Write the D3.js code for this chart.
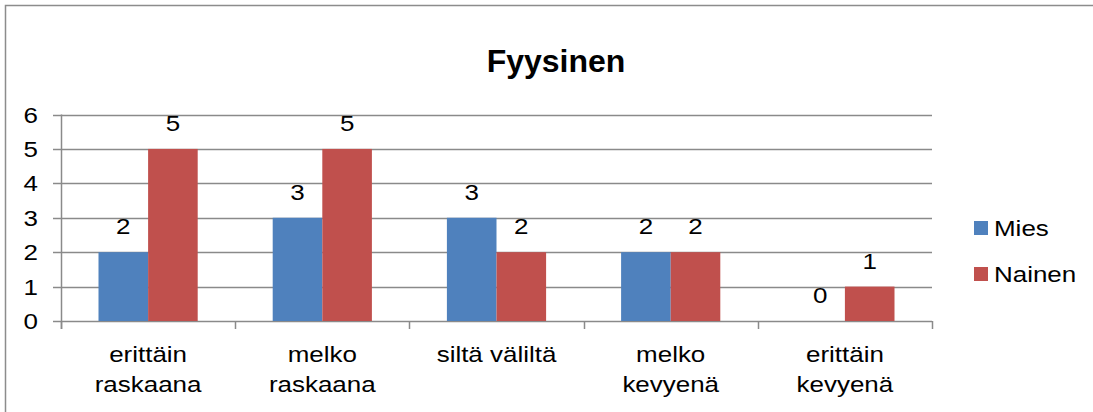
<!DOCTYPE html>
<html>
<head>
<meta charset="utf-8">
<script src="https://cdn.jsdelivr.net/npm/d3@7"></script>
<style>
  body { margin: 0; background: #fff; }
  text { font-family: "Liberation Sans", Arial, sans-serif; fill: #000; }
</style>
</head>
<body>
<div id="chart"></div>
<script>
// Data
const categories = [["erittäin", "raskaana"], ["melko", "raskaana"], ["siltä väliltä"], ["melko", "kevyenä"], ["erittäin", "kevyenä"]];
const seriesNames = ["Mies", "Nainen"];
const mies = [2, 3, 3, 2, 0];
const nainen = [5, 5, 2, 2, 1];
const yTicks = [0, 1, 2, 3, 4, 5, 6];

const colors = ["#4f81bd", "#c0504d"];
const width = 1093, height = 412;
const plot = { left: 61, right: 932, top: 114.5, bottom: 321 };
const stretch = 1.18; // text in the picture is a bit wide

const svg = d3.select("#chart").append("svg")
    .attr("width", width)
    .attr("height", height);

// outer frame (right and bottom fall outside the image)
svg.append("rect")
    .attr("x", 5.5).attr("y", 5.5)
    .attr("width", 1200).attr("height", 500)
    .attr("fill", "none")
    .attr("stroke", "#8c8c8c")
    .attr("stroke-width", 1.5);

// helper for horizontally stretched text
function label(g, x, y, txt, anchor, size) {
    return g.append("text")
        .attr("transform", `translate(${x},${y}) scale(${stretch},1)`)
        .attr("text-anchor", anchor || "middle")
        .style("font-size", (size || 22) + "px")
        .text(txt);
}

// Title
svg.append("text")
    .attr("x", 556).attr("y", 72)
    .attr("text-anchor", "middle")
    .style("font-size", "32px")
    .style("font-weight", "bold")
    .text("Fyysinen");

// Scales
const x = d3.scaleBand()
    .domain(d3.range(categories.length))
    .range([plot.left, plot.right])
    .padding(0);

const inner = d3.scaleBand()
    .domain(seriesNames)
    .range([37.5, x.bandwidth() - 37.5])
    .padding(0);

const y = d3.scaleLinear()
    .domain([0, 6])
    .range([plot.bottom, plot.top]);

// gridlines + left ticks
svg.append("g").selectAll("line")
    .data(yTicks)
    .enter().append("line")
    .attr("x1", plot.left - 8)
    .attr("x2", plot.right)
    .attr("y1", d => Math.round(y(d)) + 0.5)
    .attr("y2", d => Math.round(y(d)) + 0.5)
    .attr("stroke", "#8a8a8a")
    .attr("stroke-width", 1.5);

// y axis line
svg.append("line")
    .attr("x1", plot.left + 0.5).attr("x2", plot.left + 0.5)
    .attr("y1", plot.top).attr("y2", plot.bottom + 8)
    .attr("stroke", "#8a8a8a")
    .attr("stroke-width", 1.5);

// x ticks at category boundaries
const bounds = d3.range(categories.length + 1).map(i => i === categories.length ? plot.right : x(i));
svg.append("g").selectAll("line")
    .data(bounds)
    .enter().append("line")
    .attr("x1", d => Math.round(d) + 0.5)
    .attr("x2", d => Math.round(d) + 0.5)
    .attr("y1", plot.bottom)
    .attr("y2", plot.bottom + 8)
    .attr("stroke", "#8a8a8a")
    .attr("stroke-width", 1.5);

// y tick labels
const yl = svg.append("g");
yTicks.forEach(t => label(yl, 38, y(t) + 8, t, "end"));

// category labels
const xl = svg.append("g");
categories.forEach((lines, i) => {
    const cx = x(i) + x.bandwidth() / 2;
    lines.forEach((ln, j) => label(xl, cx, 362 + j * 30, ln));
});

// bars
const rows = categories.map((c, i) => ({ i, values: [mies[i], nainen[i]] }));
const groups = svg.append("g").selectAll("g")
    .data(rows)
    .enter().append("g")
    .attr("transform", d => `translate(${x(d.i)},0)`);

groups.selectAll("rect")
    .data(d => d.values.map((v, k) => ({ k, v })))
    .enter().append("rect")
    .attr("x", d => inner(seriesNames[d.k]))
    .attr("width", inner.bandwidth())
    .attr("y", d => y(d.v))
    .attr("height", d => y(0) - y(d.v))
    .attr("fill", d => colors[d.k]);

// value labels
groups.each(function (d) {
    const g = d3.select(this);
    d.values.forEach((v, k) => {
        label(g, inner(seriesNames[k]) + inner.bandwidth() / 2, y(v) - 18, v);
    });
});

// legend
const legend = svg.append("g");
seriesNames.forEach((s, k) => {
    const ly = 221 + k * 46;
    legend.append("rect")
        .attr("x", 974).attr("y", ly)
        .attr("width", 14).attr("height", 14)
        .attr("fill", colors[k]);
    label(legend, 994, ly + 15, s, "start", 22);
});
</script>
</body>
</html>
